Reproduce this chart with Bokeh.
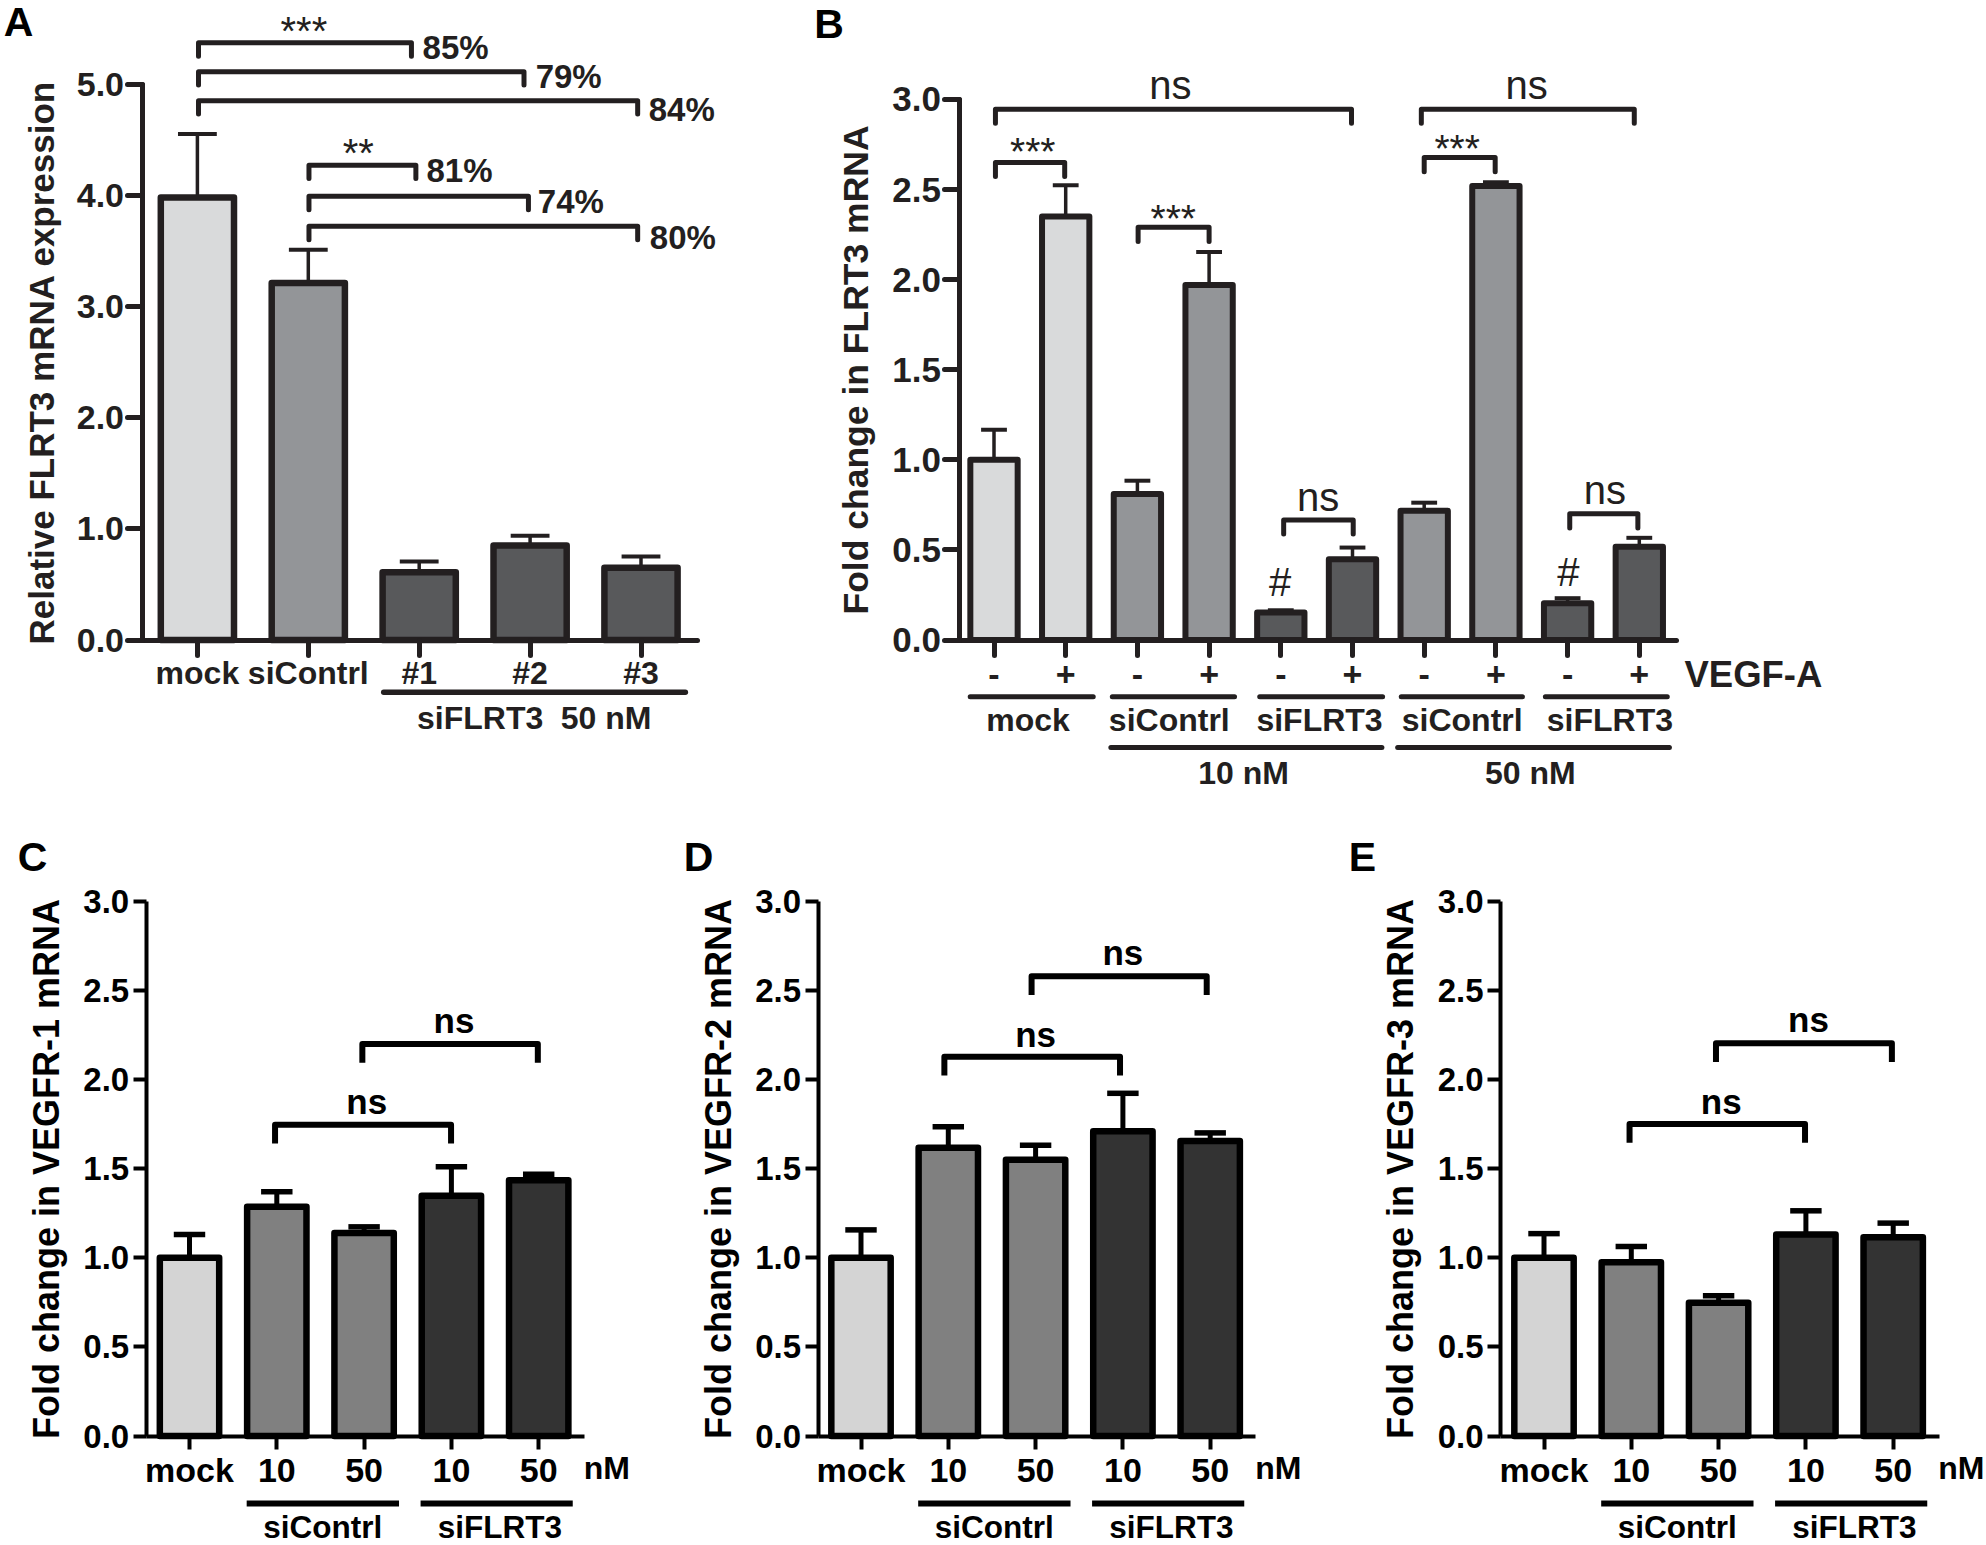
from bokeh.plotting import figure
from bokeh.layouts import column, row
from bokeh.models import LinearAxis, FixedTicker, NumeralTickFormatter, Range1d
from bokeh.core.properties import value
from bokeh.embed import file_html
from bokeh.resources import INLINE

# ---------- data ----------
a_labels = ["mock", "siContrl", "#1", "#2", "#3"]
a_means = [3.98, 3.21, 0.61, 0.85, 0.65]
a_tops = [4.55, 3.51, 0.706, 0.937, 0.75]

b_labels = ["-", "+", "-", "+", "-", "+", "-", "+", "-", "+"]
b_means = [1.0, 2.35, 0.81, 1.97, 0.153, 0.448, 0.717, 2.52, 0.204, 0.518]
b_tops = [1.167, 2.524, 0.884, 2.153, 0.165, 0.513, 0.762, 2.54, 0.232, 0.567]

cde_labels = ["mock", "10", "50", "10", "50"]
c_means = [1.0, 1.286, 1.138, 1.348, 1.435]
c_tops = [1.13, 1.37, 1.173, 1.51, 1.468]
d_means = [1.0, 1.617, 1.55, 1.709, 1.655]
d_tops = [1.156, 1.734, 1.63, 1.922, 1.70]
e_means = [1.0, 0.974, 0.748, 1.13, 1.115]
e_tops = [1.135, 1.063, 0.787, 1.263, 1.194]

FONT = "Liberation Sans"
INK_AB = "#231f20"
INK_CE = "#000000"
A_COLORS = ["#d9dadb", "#939598", "#58595b", "#58595b", "#58595b"]
B_COLORS = ["#d9dadb", "#d9dadb", "#939598", "#939598", "#58595b",
            "#58595b", "#939598", "#939598", "#58595b", "#58595b"]
CE_COLORS = ["#d4d4d4", "#808080", "#808080", "#333333", "#333333"]


def panel(fx, fy, fw, fh, ax, x1, dx, y0, sy, xright, ymax, yticks, labels, ylabel,
          ink, axis_lw, tick_font, xtick_font, label_font,
          ylab_standoff, ytick_standoff, xtick_standoff, tick_len, cap):
    p = figure(width=fw, height=fh, toolbar_location=None, output_backend="svg",
               x_axis_type=None, y_axis_type=None, min_border=0,
               x_range=Range1d(1 + (fx - x1) / dx, 1 + (fx + fw - x1) / dx),
               y_range=Range1d((y0 - fy - fh) / sy, (y0 - fy) / sy))
    p.outline_line_color = None
    p.grid.visible = False
    ax_val = 1 + (ax - x1) / dx
    right_val = 1 + (xright - x1) / dx
    ya = LinearAxis(fixed_location=ax_val, bounds=(0, ymax), ticker=FixedTicker(ticks=yticks),
                    formatter=NumeralTickFormatter(format="0.0"), axis_label=ylabel)
    xs = list(range(1, len(labels) + 1))
    xa = LinearAxis(fixed_location=0, bounds=(ax_val, right_val), ticker=FixedTicker(ticks=xs),
                    major_label_overrides={i: l for i, l in zip(xs, labels)})
    for a in (ya, xa):
        a.axis_line_width = axis_lw
        a.axis_line_color = ink
        a.axis_line_cap = cap
        a.major_tick_line_width = axis_lw
        a.major_tick_line_color = ink
        a.major_tick_line_cap = cap
        a.major_tick_in = 0
        a.major_tick_out = tick_len
        a.minor_tick_line_color = None
        a.major_label_text_font = FONT
        a.major_label_text_font_style = "bold"
        a.major_label_text_color = ink
    ya.major_label_text_font_size = tick_font
    xa.major_label_text_font_size = xtick_font
    ya.major_label_standoff = ytick_standoff
    xa.major_label_standoff = xtick_standoff
    ya.axis_label_text_font = FONT
    ya.axis_label_text_font_style = "bold"
    ya.axis_label_text_font_size = label_font
    ya.axis_label_text_color = ink
    ya.axis_label_standoff = ylab_standoff
    p.add_layout(ya, "left")
    p.add_layout(xa, "below")
    return p, xs


def bars(p, xs, means, tops, colors, ink, lw, width, cap, err_lw):
    p.segment(x0=xs, x1=xs, y0=means, y1=tops, line_color=ink, line_width=err_lw)
    p.segment(x0=[x - cap / 2 for x in xs], x1=[x + cap / 2 for x in xs], y0=tops, y1=tops,
              line_color=ink, line_width=err_lw + 0.5)
    p.vbar(x=xs, top=means, bottom=0, width=width, fill_color=colors, line_color=ink,
           line_width=lw, line_join="round")


def brackets(p, items, drop, ink, lw, cap="round"):
    p.multi_line(xs=[[a, a, b, b] for a, b, _ in items],
                 ys=[[y - drop, y, y, y - drop] for _, _, y in items],
                 line_color=ink, line_width=lw, line_join="round", line_cap=cap)


def rules(p, items, ink, lw, cap="round"):
    p.segment(x0=[a for a, _, _ in items], x1=[b for _, b, _ in items],
              y0=[y for _, _, y in items], y1=[y for _, _, y in items],
              line_color=ink, line_width=lw, line_cap=cap)


def texts(p, items, ink, size, align="center", style="bold", font=FONT, baseline="middle"):
    p.text(x=[i[0] for i in items], y=[i[1] for i in items], text=[i[2] for i in items],
           text_font=value(font), text_font_style=style, text_font_size=value(size),
           text_align=align, text_baseline=baseline, text_color=ink)


# ---------- Panel A ----------
pa, xs = panel(0, 0, 790, 810, 141.5, 196.9, 110.9, 639.5, 111.2, 697, 5.0, [0, 1, 2, 3, 4, 5],
               a_labels, "Relative FLRT3 mRNA expression", INK_AB, 5, "34px", "32px", "35px",
               13, 3, 0, 15, "round")
bars(pa, xs, a_means, a_tops, A_COLORS, INK_AB, 6.5, 0.66, 0.35, 3.5)
brackets(pa, [(1.01, 2.93, 5.37), (1.01, 3.945, 5.11), (1.01, 4.97, 4.85),
              (2.006, 2.97, 4.27), (2.006, 3.985, 3.99), (2.006, 4.97, 3.72)], 0.12, INK_AB, 5)
texts(pa, [(3.03, 5.33, "85%"), (4.05, 5.07, "79%"), (5.07, 4.77, "84%"),
           (3.066, 4.22, "81%"), (4.07, 3.94, "74%"), (5.08, 3.62, "80%")], INK_AB, "33px", align="left")
texts(pa, [(1.96, 5.48, "***"), (2.45, 4.38, "**")], INK_AB, "40px", style="normal")
rules(pa, [(2.68, 5.40, -0.47)], INK_AB, 5.5)
texts(pa, [(3.55, -0.70, "siFLRT3"), (4.685, -0.70, "50 nM")], INK_AB, "32px")
texts(pa, [(-0.746, 5.56, "A")], "#000000", "41px", align="left")

# ---------- Panel B ----------
pb, xs = panel(790, 0, 1196, 810, 958.5, 993.5, 71.7, 639.5, 180.2, 1676, 3.0, [0, 0.5, 1, 1.5, 2, 2.5, 3],
               b_labels, "Fold change in FLRT3 mRNA", INK_AB, 5, "35px", "34px", "35.5px",
               14, 3, 8, 15, "round")
bars(pb, xs, b_means, b_tops, B_COLORS, INK_AB, 6, 0.66, 0.36, 3.5)
brackets(pb, [(1.02, 5.986, 2.946), (6.96, 9.93, 2.946), (1.02, 1.986, 2.65), (3.01, 4.0, 2.29),
              (7.0, 7.99, 2.677), (5.04, 6.01, 0.666), (9.03, 9.98, 0.70)], 0.078, INK_AB, 5)
texts(pb, [(3.46, 3.08, "ns"), (8.43, 3.08, "ns"), (5.52, 0.795, "ns"), (9.52, 0.83, "ns")],
      INK_AB, "40px", style="normal")
texts(pb, [(1.54, 2.71, "***"), (3.5, 2.34, "***"), (7.46, 2.73, "***")], INK_AB, "39px", style="normal")
texts(pb, [(4.99, 0.32, "#"), (9.01, 0.38, "#")], INK_AB, "40px", style="normal")
rules(pb, [(0.668, 2.384, -0.315), (2.65, 4.355, -0.315), (4.706, 6.42, -0.315), (6.68, 8.37, -0.315),
           (8.69, 10.39, -0.315)], INK_AB, 5)
rules(pb, [(2.63, 6.41, -0.597), (6.63, 10.42, -0.597)], INK_AB, 5)
texts(pb, [(1.474, -0.446, "mock"), (3.445, -0.446, "siContrl"), (5.54, -0.446, "siFLRT3"),
           (7.53, -0.446, "siContrl"), (9.59, -0.446, "siFLRT3"),
           (4.48, -0.739, "10 nM"), (8.48, -0.739, "50 nM")], INK_AB, "32px")
texts(pb, [(10.63, -0.191, "VEGF-A")], INK_AB, "36.5px", align="left")
texts(pb, [(-1.506, 3.42, "B")], "#000000", "41px", align="left")

# ---------- Panels C, D, E ----------
AXS = [145.7, 817.5, 1500]
X1S = [189, 860.5, 1543.5]
XRS = [584, 1255, 1938.5]
FXS = [0, 660, 1326]
FWS = [660, 666, 660]
YLS = ["Fold change in VEGFR-1 mRNA", "Fold change in VEGFR-2 mRNA", "Fold change in VEGFR-3 mRNA"]
MEANS = [c_means, d_means, e_means]
TOPS = [c_tops, d_tops, e_tops]
BRACK = [[(1.98, 3.996, 1.745), (2.98, 4.99, 2.198)],
         [(1.955, 3.967, 2.127), (2.954, 4.96, 2.578)],
         [(1.98, 3.99, 1.75), (2.97, 4.985, 2.203)]]
NS = [[(3.03, 1.875, "ns"), (4.03, 2.33, "ns")],
      [(3.0, 2.25, "ns"), (4.0, 2.71, "ns")],
      [(3.03, 1.875, "ns"), (4.03, 2.335, "ns")]]
LET = [(32, "C"), (698, "D"), (1362, "E")]
figs = []
for k in range(3):
    p, xs = panel(FXS[k], 810, FWS[k], 735, AXS[k], X1S[k], 87.3, 1435.5, 178.3, XRS[k], 3.0,
                  [0, 0.5, 1, 1.5, 2, 2.5, 3], cde_labels, YLS[k], INK_CE, 4,
                  "33px", "34px", "36px", 14, 4, 2, 13, "butt")
    bars(p, xs, MEANS[k], TOPS[k], CE_COLORS, INK_CE, 6.5, 0.68, 0.36, 5)
    brackets(p, BRACK[k], 0.105, INK_CE, 6, cap="butt")
    texts(p, NS[k], INK_CE, "35px")
    texts(p, [(5.78, -0.182, "nM")], INK_CE, "32px")
    rules(p, [(1.655, 3.4, -0.378), (3.647, 5.39, -0.378)], INK_CE, 6, cap="butt")
    texts(p, [(2.527, -0.508, "siContrl"), (4.554, -0.508, "siFLRT3")], INK_CE, "31.5px")
    texts(p, [(1 + (LET[k][0] - X1S[k]) / 87.3, 3.247, LET[k][1])], "#000000", "41px")
    figs.append(p)

layout = column(row(pa, pb, spacing=0), row(*figs, spacing=0), spacing=0)
open("out.html", "w").write(file_html(layout, INLINE))
